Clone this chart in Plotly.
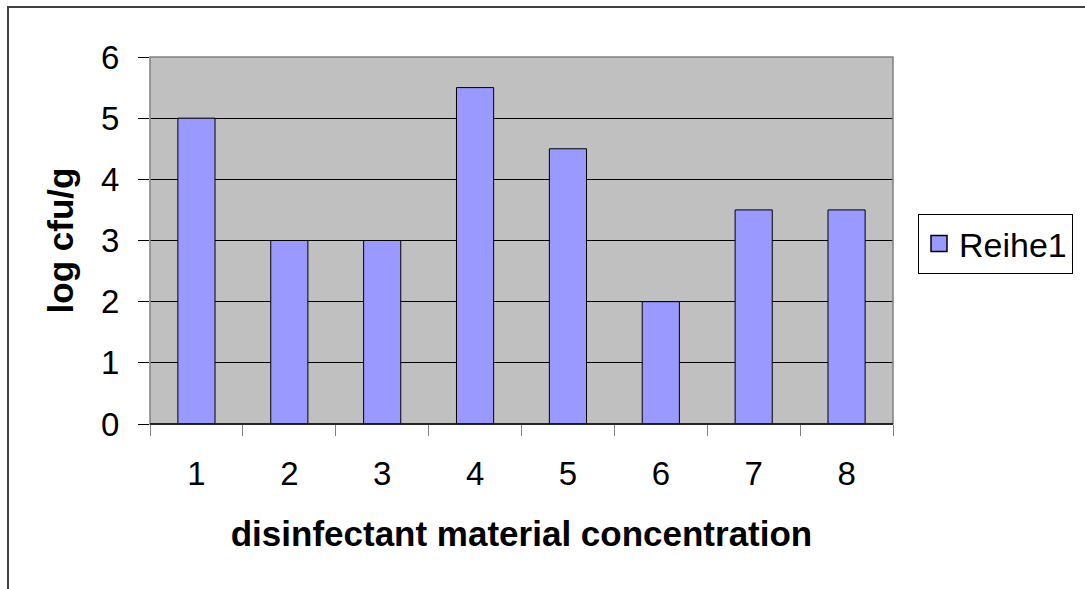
import plotly.graph_objects as go

# Categories and measured values
categories = ["1", "2", "3", "4", "5", "6", "7", "8"]
log_cfu = [5, 3, 3, 5.5, 4.5, 2, 3.5, 3.5]
y_ticks = [0, 1, 2, 3, 4, 5, 6]
series_name = "Reihe1"

W, H = 1085, 589
L, R, T, B = 150, 192, 57, 165
pw, ph = W - L - R, H - T - B

def px_x(x):
    return (x - L) / pw

def px_y(y):
    return (H - B - y) / ph

BAR_COLOR = "#9999FF"

fig = go.Figure()
fig.add_trace(go.Bar(
    x=categories, y=log_cfu, name=series_name,
    marker=dict(color=BAR_COLOR, line=dict(color="black", width=1)),
    showlegend=False,
))
# legend entry with a larger square key
fig.add_trace(go.Scatter(
    x=[None], y=[None], mode="markers", name=series_name,
    marker=dict(symbol="square", size=16, color=BAR_COLOR,
                line=dict(color="black", width=1.5)),
    showlegend=True,
))

font = "Liberation Sans, Arial, sans-serif"
fig.update_layout(
    width=W, height=H,
    margin=dict(l=L, r=R, t=T, b=B),
    paper_bgcolor="white", plot_bgcolor="#C0C0C0",
    bargap=0.6,
    font=dict(family=font, size=33, color="black"),
    showlegend=True,
    legend=dict(
        x=px_x(918), y=px_y(214), xanchor="left", yanchor="top",
        bordercolor="black", borderwidth=1, bgcolor="white",
        font=dict(size=34), itemsizing="trace", itemwidth=30,
    ),
    xaxis=dict(
        type="category", tickson="boundaries", ticks="outside", ticklen=11,
        tickcolor="#808080", showgrid=False, showline=False, zeroline=False,
        ticklabelstandoff=27,
        title=dict(text="<b>disinfectant material concentration</b>", standoff=30,
                   font=dict(size=35)),
    ),
    yaxis=dict(
        range=[0, 6], tickvals=y_ticks, ticks="outside", ticklen=11,
        tickcolor="black", showgrid=True, gridcolor="black", gridwidth=1,
        zeroline=False, showline=False, ticklabelstandoff=12,
        title=dict(text="<b>log cfu/g</b>", standoff=16, font=dict(size=35)),
    ),
    shapes=[
        # plot-area frame
        dict(type="rect", xref="paper", yref="paper", x0=0, x1=1, y0=0, y1=1,
             line=dict(color="#808080", width=1.5), layer="above"),
        # baseline
        dict(type="line", xref="paper", yref="paper", x0=0, x1=1, y0=0, y1=0,
             line=dict(color="black", width=1.5), layer="above"),
        # chart-area border
        dict(type="rect", xref="paper", yref="paper",
             x0=px_x(8), x1=px_x(W + 20), y0=px_y(H + 20), y1=px_y(7),
             line=dict(color="#404040", width=2), layer="above"),
    ],
)

fig.write_html("out.html")
